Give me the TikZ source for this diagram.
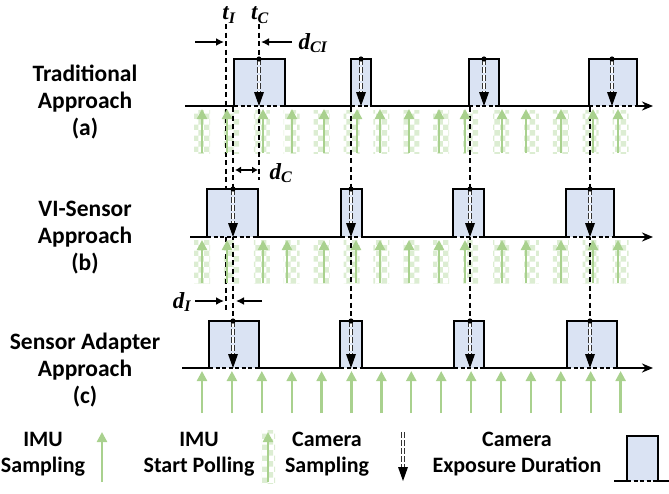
\documentclass[tikz,border=0pt]{standalone}
\usepackage{fontspec}
\setmainfont{Carlito}
\newfontfamily\dimfont{Liberation Serif}
\usetikzlibrary{arrows.meta,patterns}

\definecolor{pulseblue}{HTML}{DAE3F3}
\definecolor{imugreen}{HTML}{A9D18E}
\definecolor{pollgreen}{HTML}{DCEDD2}

\tikzset{
  signal/.style={line width=2.3pt, line join=miter},
  inner/.style={line width=1.2pt, dash pattern=on 4pt off 2.5pt},
  guide/.style={line width=1.3pt, dash pattern=on 5pt off 3.5pt},
  imu/.style={draw=imugreen, line width=2.3pt, -{Triangle[length=10pt,width=10pt]}},
  poll/.style={pattern=checkerboard, pattern color=pollgreen},
  camline/.style={draw=black!80, line width=1.3pt, double=white, double distance=1.4pt, dash pattern=on 6pt off 2pt},
  lbl/.style={font=\bfseries\fontsize{23.5}{27}\selectfont, align=center, inner sep=0pt},
  leg/.style={font=\bfseries\fontsize{22}{26}\selectfont, align=center, inner sep=0pt},
  mlbl/.style={font=\dimfont\bfseries\itshape\fontsize{23}{26}\selectfont, inner sep=0pt},
  dim/.style={line width=1.8pt, -{Latex[length=8pt,width=8pt]}},
}

% camera sampling: x, top, base
\newcommand{\camsamp}[3]{%
  \draw[camline] (#1,#2) -- (#1,#3-12);
  \fill (#1-5,#3-14) -- (#1+5,#3-14) -- (#1,#3) -- cycle;
}

\begin{document}
\begin{tikzpicture}[x=1pt,y=-1pt]
  \useasboundingbox (0,0) rectangle (669,493);

  % polling windows
  \foreach \k in {0,...,14}{
    \fill[poll] (194+29.9*\k,110) rectangle (210+29.9*\k,153);
    \fill[poll] (194+29.9*\k,240) rectangle (210+29.9*\k,283);
  }

  % guide lines
  \draw[guide] (226,24) -- (226,312);
  \draw[guide] (259,24) -- (259,180);
  \foreach \x in {233,351,470,590}
    \draw[guide] (\x,107) -- (\x,321);

  % exposures
  \foreach \l/\r in {234/285,351/371,469/499,589/637}{
    \fill[pulseblue] (\l,59) rectangle (\r,106);
    \draw[inner] (\l,106) -- (\r,106);
  }
  \foreach \l/\r in {207/258,341/362,453/484,566/614}{
    \fill[pulseblue] (\l,189) rectangle (\r,237);
    \draw[inner] (\l,237) -- (\r,237);
  }
  \foreach \l/\r in {209/259,340/362,454/484,567/617}{
    \fill[pulseblue] (\l,321) rectangle (\r,368);
    \draw[inner] (\l,368) -- (\r,368);
  }

  % IMU samples
  \foreach \x in {202,227,263,292,324,357,380,409,439,465,502,526,561,593,618}
    \draw[imu] (\x,153) -- (\x,109);
  \foreach \x in {202,227,263,287,324,356,380,409,439,465,502,526,561,593,618}
    \draw[imu] (\x,283) -- (\x,240);
  \foreach \k in {0,...,14}
    \draw[imu] (202+29.9*\k,413) -- (202+29.9*\k,371);

  % camera samples
  \foreach \x in {259,361,484,612}{
    \camsamp{\x}{59}{106}
    \fill (\x,59) circle (2.6pt);
  }
  \foreach \x in {233,351,470,590}{
    \camsamp{\x}{189}{237}
    \fill (\x,189) circle (2.6pt);
    \camsamp{\x}{321}{368}
    \fill (\x,321) circle (2.6pt);
  }

  % signals
  \draw[signal,-{Stealth[length=11pt,width=9pt]}] (185,106) -- (234,106) -- (234,59) -- (285,59) -- (285,106)
    -- (351,106) -- (351,59) -- (371,59) -- (371,106) -- (469,106) -- (469,59) -- (499,59) -- (499,106)
    -- (589,106) -- (589,59) -- (637,59) -- (637,106) -- (653,106);
  \draw[signal,-{Stealth[length=11pt,width=9pt]}] (190,237) -- (207,237) -- (207,189) -- (258,189) -- (258,237)
    -- (341,237) -- (341,189) -- (362,189) -- (362,237) -- (453,237) -- (453,189) -- (484,189) -- (484,237)
    -- (566,237) -- (566,189) -- (614,189) -- (614,237) -- (653,237);
  \draw[signal,-{Stealth[length=11pt,width=9pt]}] (182,368) -- (209,368) -- (209,321) -- (259,321) -- (259,368)
    -- (340,368) -- (340,321) -- (362,321) -- (362,368) -- (454,368) -- (454,321) -- (484,321) -- (484,368)
    -- (567,368) -- (567,321) -- (617,321) -- (617,368) -- (653,368);

  % row labels
  \node[lbl] (lbla) at (85,102) {Traditional\\Approach\\(a)};
  \node[lbl] (lblb) at (85,238) {VI-Sensor\\Approach\\(b)};
  \node[lbl] (lblc) at (85,370) {Sensor Adapter\\Approach\\(c)};

  % time marks
  \node[mlbl] (tI) at (229,15) {t\textsubscript{I}};
  \node[mlbl] (tC) at (260,15) {t\textsubscript{C}};
  \draw[dim] (195,42) -- (224,42);
  \draw[dim] (292,42) -- (261,42);
  \node[mlbl] (dCI) at (313,43) {d\textsubscript{CI}};
  \draw[dim,{Latex[length=6pt,width=7pt]}-{Latex[length=6pt,width=7pt]}] (235,170) -- (258,170);
  \node[mlbl] (dC) at (281,173) {d\textsubscript{C}};
  \draw[dim] (195,301) -- (224,301);
  \draw[dim] (262,301) -- (236,301);
  \node[mlbl] (dI) at (182,302) {d\textsubscript{I}};

  % legend
  \node[leg] (lgimu) at (43,454) {IMU\\Sampling};
  \draw[imu] (102,482) -- (102,432);
  \node[leg] (lgpoll) at (199,454) {IMU\\Start Polling};
  \fill[poll] (261,430) rectangle (275,483);
  \draw[imu] (268,482) -- (268,432);
  \node[leg] (lgcam) at (327,454) {Camera\\Sampling};
  \camsamp{403}{432}{481}
  \node[leg] (lgexp) at (517,454) {Camera\\Exposure Duration};
  \fill[pulseblue] (627,436) rectangle (658,481);
  \draw[inner] (627,481) -- (658,481);
  \draw[signal] (614,481) -- (627,481) -- (627,436) -- (658,436) -- (658,481) -- (669,481);
\end{tikzpicture}
\end{document}
